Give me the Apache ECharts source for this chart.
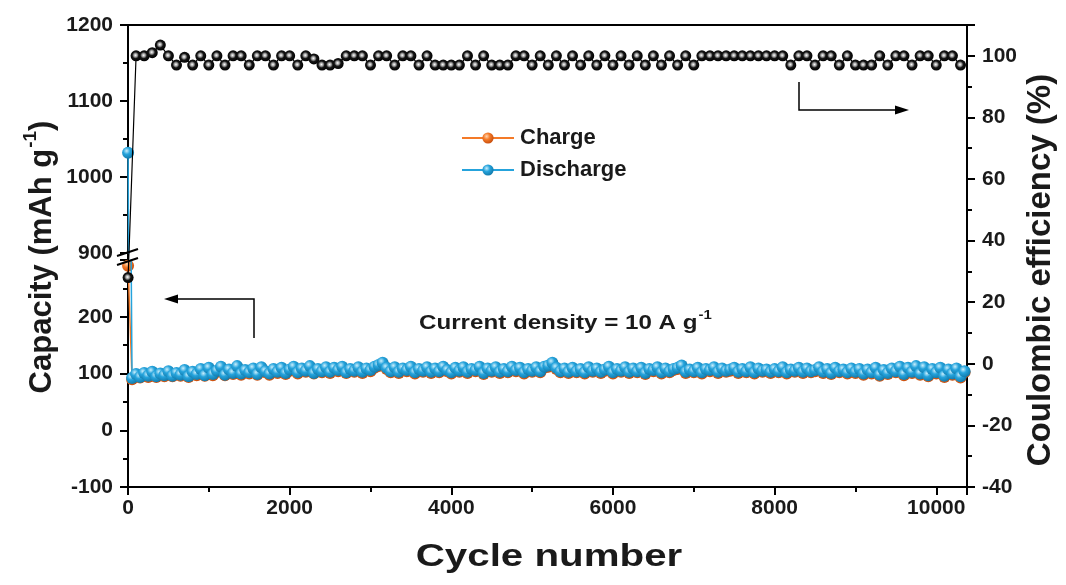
<!DOCTYPE html>
<html>
<head>
<meta charset="utf-8">
<script src="https://cdn.jsdelivr.net/npm/echarts@6/dist/echarts.min.js"></script>
<style>html,body{margin:0;padding:0;background:#fff}#c{width:1066px;height:585px}</style>
</head>
<body>
<div id="c"></div>
<script>
// ---- data ----
const capStep = 50;      // capacity sampled every 50 cycles (first point = cycle 1)
const ceStep = 100;      // CE sampled every 100 cycles (first point = cycle 1)
const dischargeValues = [
  1032, 92, 99, 94, 101, 96, 103, 95, 100, 97,
  104, 96, 101, 98, 106, 95, 103, 99, 108, 97,
  110, 99, 105, 112, 98, 107, 101, 113, 100, 106,
  102, 109, 99, 111, 104, 100, 108, 103, 110, 101,
  107, 112, 102, 109, 105, 113, 101, 108, 104, 111,
  103, 110, 106, 112, 102, 108, 105, 111, 103, 109,
  106, 112, 115, 119, 110, 104, 111, 103, 109, 106,
  112, 102, 108, 105, 111, 103, 109, 104, 112, 106,
  102, 110, 105, 111, 103, 108, 106, 112, 101, 109,
  105, 111, 103, 108, 104, 112, 106, 110, 102, 108,
  105, 111, 104, 112, 114, 119, 110, 104, 109, 103,
  110, 104, 108, 102, 111, 105, 109, 103, 107, 112,
  102, 108, 105, 111, 103, 109, 104, 110, 101, 108,
  106, 111, 102, 109, 104, 108, 110, 114, 103, 107,
  104, 110, 102, 108, 106, 111, 103, 109, 105, 107,
  110, 103, 108, 104, 111, 102, 109, 105, 107, 103,
  108, 104, 111, 102, 107, 105, 110, 103, 109, 104,
  106, 111, 103, 108, 101, 110, 104, 107, 102, 109,
  103, 108, 100, 107, 102, 110, 98, 106, 101, 109,
  104, 112, 99, 110, 103, 113, 100, 111, 97, 108,
  102, 110, 96, 107, 100, 109, 95, 104
];
const chargeValues = [
  290, 90, 97, 93, 99, 94, 101, 94, 98, 95,
  102, 95, 99, 96, 104, 94, 101, 97, 106, 96,
  108, 97, 103, 110, 97, 105, 99, 111, 98, 104,
  100, 107, 98, 109, 102, 98, 106, 101, 108, 99,
  105, 110, 100, 107, 103, 111, 100, 106, 102, 109,
  101, 108, 104, 110, 101, 106, 103, 109, 101, 107,
  104, 110, 113, 117, 108, 102, 109, 101, 107, 104,
  110, 100, 106, 103, 109, 101, 107, 102, 110, 104,
  100, 108, 103, 109, 101, 106, 104, 110, 99, 107,
  103, 109, 101, 106, 102, 110, 104, 108, 100, 106,
  103, 109, 102, 110, 112, 117, 108, 102, 107, 101,
  108, 102, 106, 100, 109, 103, 107, 101, 105, 110,
  100, 106, 103, 109, 101, 107, 102, 108, 99, 106,
  104, 109, 100, 107, 102, 106, 108, 112, 101, 105,
  102, 108, 100, 106, 104, 109, 101, 107, 103, 105,
  108, 101, 106, 102, 109, 100, 107, 103, 105, 101,
  106, 102, 109, 100, 105, 103, 108, 101, 107, 102,
  104, 109, 101, 106, 99, 108, 102, 105, 100, 107,
  101, 106, 98, 105, 100, 108, 96, 104, 99, 107,
  102, 110, 97, 108, 101, 111, 98, 109, 95, 106,
  100, 108, 94, 105, 98, 107, 93, 102
];
const ceValues = [
  28, 100, 100, 101, 103.5, 100, 97, 99.5, 97, 100,
  97, 100, 97, 100, 100, 97, 100, 100, 97, 100,
  100, 97, 100, 99, 97, 97, 97.5, 100, 100, 100,
  97, 100, 100, 97, 100, 100, 97, 100, 97, 97,
  97, 97, 100, 97, 100, 97, 97, 97, 100, 100,
  97, 100, 97, 100, 97, 100, 97, 100, 97, 100,
  97, 100, 97, 100, 97, 100, 97, 100, 97, 100,
  97, 100, 100, 100, 100, 100, 100, 100, 100, 100,
  100, 100, 97, 100, 100, 97, 100, 100, 97, 100,
  97, 97, 97, 100, 97, 100, 100, 97, 100, 100,
  97, 100, 100, 97
];
const xTicks = [0, 2000, 4000, 6000, 8000, 10000];
const capUpperTicks = [900, 1000, 1100, 1200];
const capLowerTicks = [-100, 0, 100, 200];
const ceTicks = [-40, -20, 0, 20, 40, 60, 80, 100];

function pairs(vals, step) {
  return vals.map((v, i) => [i === 0 ? 1 : i * step, v]);
}
const chargeData = pairs(chargeValues, capStep);
const dischargeData = pairs(dischargeValues, capStep);
const ceData = pairs(ceValues, ceStep);

// ---- style ----
const FONT = 'Liberation Sans, Arial, sans-serif';
const TXT = '#1a1a1a';
function sphere(c0, c1, c2) {
  return { type: 'radial', x: 0.38, y: 0.35, r: 0.65,
    colorStops: [{offset: 0, color: c0}, {offset: 0.45, color: c1}, {offset: 1, color: c2}] };
}
const blueBall = sphere('#c9eefc', '#25a3dc', '#137cad');
const orangeBall = sphere('#ffd3ad', '#f47a28', '#c94f0e');
const blackBall = { type: 'radial', x: 0.45, y: 0.45, r: 0.55,
  colorStops: [{offset: 0, color: '#ffffff'}, {offset: 0.3, color: '#9a9a9a'}, {offset: 0.55, color: '#151515'}, {offset: 1, color: '#000'}] };

const L = 128, W = 839;
const xMax = 10380;
function tick() { return { show: true, inside: false, length: 8, lineStyle: { color: '#000', width: 2 } }; }
function minor() { return { show: true, splitNumber: 2, length: 5, lineStyle: { color: '#000', width: 2 } }; }
function lbl(margin, list) {
  return { margin: margin, color: TXT, fontFamily: FONT, fontWeight: 'bold', fontSize: 21,
    showMaxLabel: true, formatter: v => list.includes(v) ? String(v) : '' };
}
const hiddenX = (gi) => ({ type: 'value', gridIndex: gi, min: 0, max: xMax, show: false });

const option = {
  animation: false,
  backgroundColor: '#fff',
  grid: [
    { left: L, width: W, top: 25, height: 462, show: true, borderColor: '#000', borderWidth: 2, backgroundColor: 'transparent' },
    { left: L, width: W, top: 260, height: 227 },
    { left: L, width: W, top: 25, height: 228 }
  ],
  xAxis: [
    { type: 'value', gridIndex: 0, min: 0, max: xMax, interval: 2000, position: 'bottom',
      axisLine: { show: true, onZero: false, lineStyle: { color: '#000', width: 2 } },
      axisTick: tick(), minorTick: minor(), splitLine: { show: false }, axisLabel: lbl(11, xTicks) },
    hiddenX(1), hiddenX(2)
  ],
  yAxis: [
    { type: 'value', gridIndex: 0, position: 'right', min: -40, max: 110, interval: 20,
      axisLine: { show: true, onZero: false, lineStyle: { color: '#000', width: 2 } },
      axisTick: tick(), minorTick: minor(), splitLine: { show: false }, axisLabel: lbl(15, ceTicks) },
    { type: 'value', gridIndex: 1, position: 'left', min: -100, max: 300, interval: 100,
      axisLine: { show: true, onZero: false, lineStyle: { color: '#000', width: 2 } },
      axisTick: tick(), minorTick: minor(), splitLine: { show: false }, axisLabel: lbl(15, capLowerTicks) },
    { type: 'value', gridIndex: 2, position: 'left', min: 900, max: 1200, interval: 100,
      axisLine: { show: true, onZero: false, lineStyle: { color: '#000', width: 2 } },
      axisTick: tick(), minorTick: minor(), splitLine: { show: false }, axisLabel: lbl(15, capUpperTicks) }
  ],
  legend: {
    left: 456, top: 122, orient: 'vertical', itemWidth: 52, itemHeight: 14, itemGap: 10,
    data: ['Charge', 'Discharge'],
    textStyle: { color: TXT, fontFamily: FONT, fontWeight: 'bold', fontSize: 22, padding: [0, 0, 0, 1] }
  },
  series: [
    { name: 'Charge', type: 'line', xAxisIndex: 1, yAxisIndex: 1, data: chargeData, clip: true,
      symbol: 'circle', symbolSize: 12, showSymbol: true, z: 2,
      itemStyle: { color: orangeBall, borderWidth: 0 }, lineStyle: { color: '#f47a28', width: 1.5 } },
    { name: 'Discharge', type: 'line', xAxisIndex: 1, yAxisIndex: 1, data: dischargeData, clip: true,
      symbol: 'circle', symbolSize: 12, showSymbol: true, z: 3,
      itemStyle: { color: blueBall, borderWidth: 0 }, lineStyle: { color: '#25a3dc', width: 1.5 } },
    { name: 'Discharge', type: 'line', xAxisIndex: 2, yAxisIndex: 2, data: dischargeData, clip: true,
      symbol: 'circle', symbolSize: 12, showSymbol: true, z: 3,
      itemStyle: { color: blueBall, borderWidth: 0 }, lineStyle: { color: '#25a3dc', width: 1.5 } },
    { name: 'CE', type: 'line', xAxisIndex: 0, yAxisIndex: 0, data: ceData, clip: true,
      symbol: 'circle', symbolSize: 11, showSymbol: true, z: 4,
      itemStyle: { color: blackBall, borderWidth: 0 }, lineStyle: { color: '#000', width: 1.2 } }
  ],
  graphic: [
    // axis break marks
    { type: 'line', shape: { x1: 117, y1: 256, x2: 138, y2: 249 }, style: { stroke: '#000', lineWidth: 2 }, z: 100 },
    { type: 'line', shape: { x1: 117, y1: 265, x2: 138, y2: 258 }, style: { stroke: '#000', lineWidth: 2 }, z: 100 },
    // left arrow
    { type: 'polyline', shape: { points: [[254, 338], [254, 299], [174, 299]] }, style: { stroke: '#000', lineWidth: 1.5, fill: null }, z: 100 },
    { type: 'polygon', shape: { points: [[164, 299], [178, 294.5], [178, 303.5]] }, style: { fill: '#000' }, z: 100 },
    // right arrow
    { type: 'polyline', shape: { points: [[799, 82], [799, 110], [898, 110]] }, style: { stroke: '#000', lineWidth: 1.5, fill: null }, z: 100 },
    { type: 'polygon', shape: { points: [[909, 110], [895, 105.5], [895, 114.5]] }, style: { fill: '#000' }, z: 100 },
    // annotation
    { type: 'text', x: 419, y: 323, scaleX: 1.15, z: 100,
      style: { text: '{n|Current density = 10 A g}{s|-1}', verticalAlign: 'middle', fill: TXT,
        rich: { n: { fontFamily: FONT, fontWeight: 'bold', fontSize: 21, fill: TXT },
                s: { fontFamily: FONT, fontWeight: 'bold', fontSize: 13, fill: TXT, padding: [0, 0, 16, 1] } } } },
    // axis titles
    { type: 'text', x: 42, y: 257, rotation: Math.PI / 2, z: 100,
      style: { text: '{n|Capacity (mAh g}{s|-1}{n|)}', align: 'center', verticalAlign: 'middle', fill: TXT,
        rich: { n: { fontFamily: FONT, fontWeight: 'bold', fontSize: 31, fill: TXT },
                s: { fontFamily: FONT, fontWeight: 'bold', fontSize: 19, fill: TXT, padding: [0, 0, 22, 1] } } } },
    { type: 'text', x: 1041, y: 270, rotation: Math.PI / 2, z: 100,
      style: { text: 'Coulombic efficiency (%)', align: 'center', verticalAlign: 'middle', fill: TXT,
        fontFamily: FONT, fontWeight: 'bold', fontSize: 33 } },
    { type: 'text', x: 549, y: 557, scaleX: 1.3, z: 100,
      style: { text: 'Cycle number', align: 'center', verticalAlign: 'middle', fill: TXT,
        fontFamily: FONT, fontWeight: 'bold', fontSize: 31 } }
  ]
};

const chart = echarts.init(document.getElementById('c'), null, { renderer: 'canvas' });
chart.setOption(option);
</script>
</body>
</html>
